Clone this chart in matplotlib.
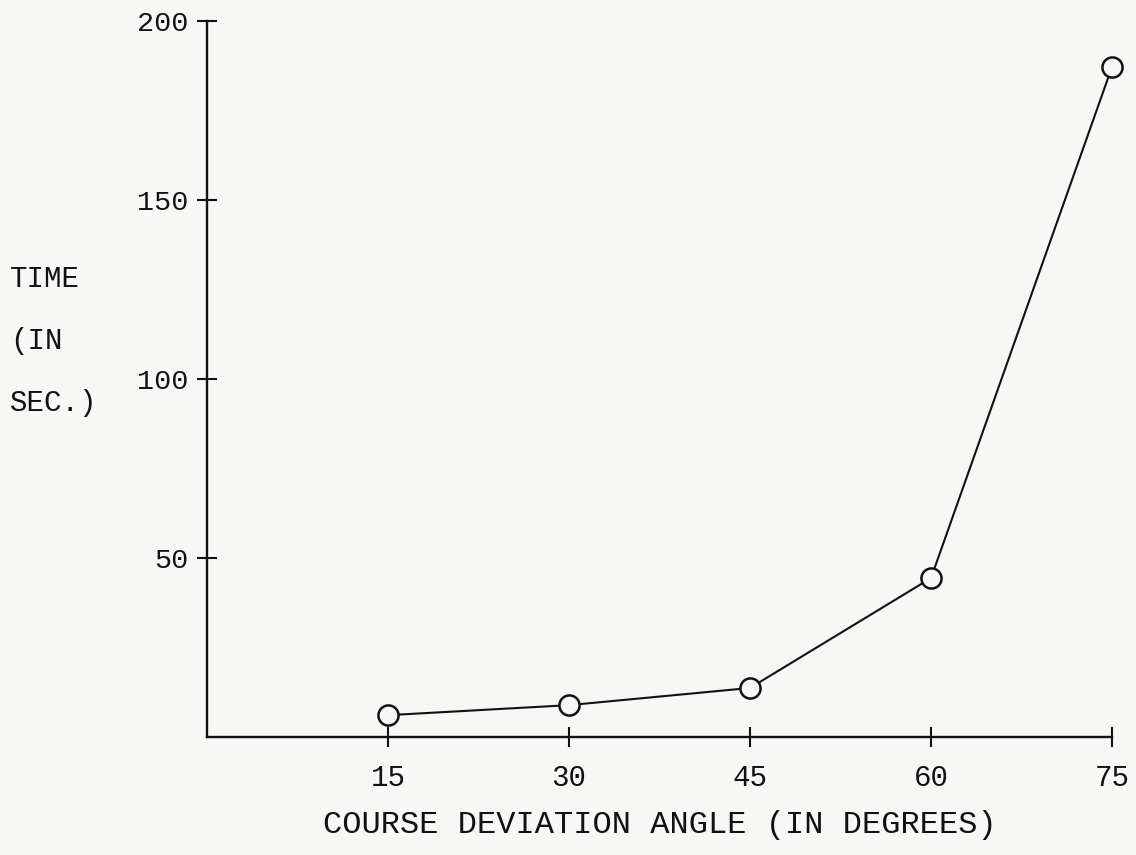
import matplotlib
matplotlib.use("Agg")
import matplotlib.pyplot as plt

angles = [15, 30, 45, 60, 75]
times = [6.1, 8.9, 13.7, 44.4, 187.2]
x_ticks = [15, 30, 45, 60, 75]
y_ticks = [50, 100, 150, 200]
x_label = "COURSE DEVIATION ANGLE (IN DEGREES)"
y_label = "TIME\n(IN\nSEC.)"

font = "Liberation Mono"
bg = "#f7f7f5"
ink = "#111111"

fig = plt.figure(figsize=(11.36, 8.55), dpi=100, facecolor=bg)
ax = fig.add_axes([0.1822, 0.138, 0.7967, 0.8374], facecolor=bg)

ax.plot(angles, times, color=ink, lw=1.5, marker="o", markersize=14.5,
        markerfacecolor=bg, markeredgecolor=ink, markeredgewidth=1.8,
        clip_on=False, zorder=3)

ax.set_xlim(0, 75)
ax.set_ylim(0, 200)
ax.set_xticks(x_ticks)
ax.set_yticks(y_ticks)
ax.set_xticklabels([str(v) for v in x_ticks], fontfamily=font, fontsize=21, color=ink)
ax.set_yticklabels([str(v) for v in y_ticks], fontfamily=font, fontsize=20.5, color=ink,
                   va="center_baseline")
ax.tick_params(axis="both", direction="inout", length=15, width=1.5, colors=ink)
ax.tick_params(axis="x", pad=12)
ax.tick_params(axis="y", pad=6)

for s in ("top", "right"):
    ax.spines[s].set_visible(False)
for s in ("left", "bottom"):
    ax.spines[s].set_linewidth(1.7)
    ax.spines[s].set_color(ink)

ax.set_xlabel(x_label, fontfamily=font, fontsize=23, color=ink, labelpad=13)
fig.text(10 / 1136, 1 - 341 / 855, y_label, fontfamily=font, fontsize=21,
         color=ink, ha="left", va="center", linespacing=2.55)

fig.savefig("out.png", dpi=100, facecolor=bg)
